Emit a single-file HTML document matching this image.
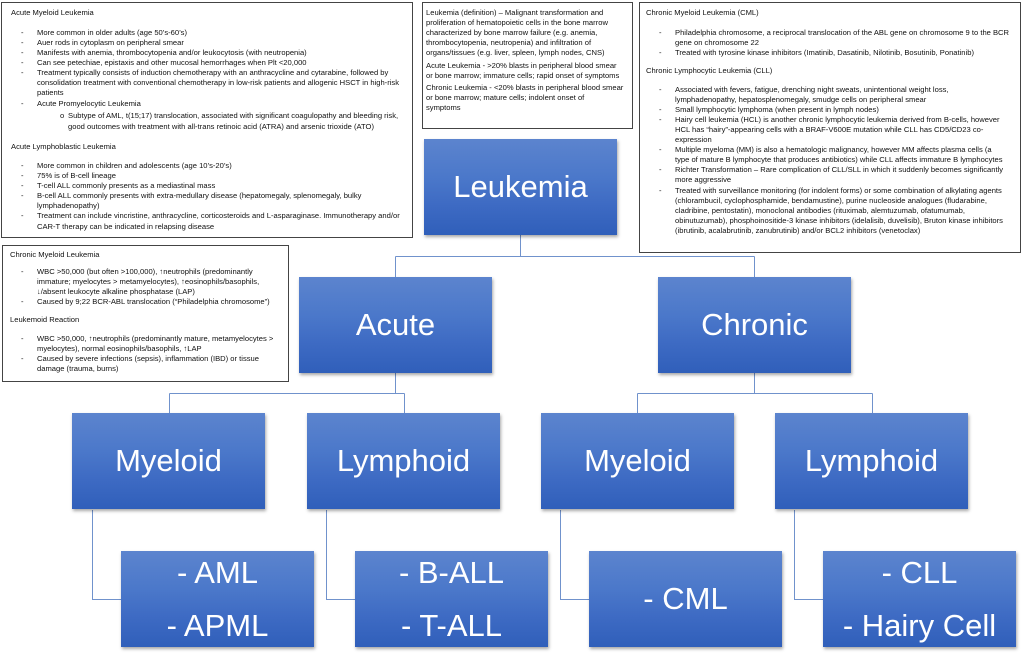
<!DOCTYPE html>
<html>
<head>
<meta charset="utf-8">
<style>
  html,body{margin:0;padding:0;background:#fff;}
  body{width:1024px;height:655px;position:relative;overflow:hidden;font-family:"Liberation Sans",Arial,"DejaVu Sans",sans-serif;}
  .box{position:absolute;border:1px solid #444;background:#fff;box-sizing:border-box;}
  .l{position:absolute;font-size:7.6px;line-height:10px;height:10px;white-space:nowrap;color:#111;}
  .node{position:absolute;width:193px;height:96px;background:linear-gradient(to bottom,#5c84ce 0%,#4b78ca 40%,#3d6ac3 70%,#305fba 100%);box-shadow:1px 2px 3px rgba(0,0,0,0.35);color:#fff;font-size:31px;text-align:center;}
  .node .t1{position:absolute;left:0;top:0;width:100%;line-height:96px;white-space:nowrap;}
  .node .t2{position:absolute;left:0;top:-5px;width:100%;line-height:53px;white-space:nowrap;}
  svg{position:absolute;left:0;top:0;}
</style>
</head>
<body>

<!-- connectors -->
<svg width="1024" height="655" viewBox="0 0 1024 655">
  <g stroke="#7092cc" stroke-width="1" fill="none" shape-rendering="crispEdges">
    <path d="M520.5 235 V256.5 M395.5 256.5 H754.5 M395.5 256.5 V277 M754.5 256.5 V277"/>
    <path d="M395.5 373 V393.5 M169.5 393.5 H404.5 M169.5 393.5 V413 M404.5 393.5 V413"/>
    <path d="M754.5 373 V393.5 M637.5 393.5 H872.5 M637.5 393.5 V413 M872.5 393.5 V413"/>
    <path d="M92.5 510 V599.5 H121"/>
    <path d="M326.5 510 V599.5 H355"/>
    <path d="M560.5 510 V599.5 H589"/>
    <path d="M794.5 510 V599.5 H823"/>
  </g>
</svg>

<!-- text boxes -->
<div class="box" style="left:1px;top:2px;width:412px;height:236px;"></div>
<div class="box" style="left:422px;top:2px;width:211px;height:127px;"></div>
<div class="box" style="left:639px;top:2px;width:382px;height:251px;"></div>
<div class="box" style="left:2px;top:245px;width:287px;height:137px;"></div>

<!-- top-left box text -->
<div class="l" style="left:11px;top:8px;">Acute Myeloid Leukemia</div>
<div class="l" style="left:21px;top:28px;">-</div><div class="l" style="left:37px;top:28px;">More common in older adults (age 50’s-60’s)</div>
<div class="l" style="left:21px;top:38px;">-</div><div class="l" style="left:37px;top:38px;">Auer rods in cytoplasm on peripheral smear</div>
<div class="l" style="left:21px;top:48px;">-</div><div class="l" style="left:37px;top:48px;">Manifests with anemia, thrombocytopenia and/or leukocytosis (with neutropenia)</div>
<div class="l" style="left:21px;top:58px;">-</div><div class="l" style="left:37px;top:58px;">Can see petechiae, epistaxis and other mucosal hemorrhages when Plt &lt;20,000</div>
<div class="l" style="left:21px;top:68px;">-</div><div class="l" style="left:37px;top:68px;">Treatment typically consists of induction chemotherapy with an anthracycline and cytarabine, followed by</div>
<div class="l" style="left:37px;top:78px;">consolidation treatment with conventional chemotherapy in low-risk patients and allogenic HSCT in high-risk</div>
<div class="l" style="left:37px;top:88px;">patients</div>
<div class="l" style="left:21px;top:99px;">-</div><div class="l" style="left:37px;top:99px;">Acute Promyelocytic Leukemia</div>
<div class="l" style="left:60px;top:111px;">o</div><div class="l" style="left:68px;top:111px;">Subtype of AML, t(15;17) translocation, associated with significant coagulopathy and bleeding risk,</div>
<div class="l" style="left:68px;top:122px;">good outcomes with treatment with all-trans retinoic acid (ATRA) and arsenic trioxide (ATO)</div>
<div class="l" style="left:11px;top:142px;">Acute Lymphoblastic Leukemia</div>
<div class="l" style="left:21px;top:161px;">-</div><div class="l" style="left:37px;top:161px;">More common in children and adolescents (age 10’s-20’s)</div>
<div class="l" style="left:21px;top:171px;">-</div><div class="l" style="left:37px;top:171px;">75% is of B-cell lineage</div>
<div class="l" style="left:21px;top:181px;">-</div><div class="l" style="left:37px;top:181px;">T-cell ALL commonly presents as a mediastinal mass</div>
<div class="l" style="left:21px;top:191px;">-</div><div class="l" style="left:37px;top:191px;">B-cell ALL commonly presents with extra-medullary disease (hepatomegaly, splenomegaly, bulky</div>
<div class="l" style="left:37px;top:201px;">lymphadenopathy)</div>
<div class="l" style="left:21px;top:211px;">-</div><div class="l" style="left:37px;top:211px;">Treatment can include vincristine, anthracycline, corticosteroids and L-asparaginase. Immunotherapy and/or</div>
<div class="l" style="left:37px;top:222px;">CAR-T therapy can be indicated in relapsing disease</div>

<!-- top-middle box text -->
<div class="l" style="left:426px;top:8px;">Leukemia (definition) – Malignant transformation and</div>
<div class="l" style="left:426px;top:18px;">proliferation of hematopoietic cells in the bone marrow</div>
<div class="l" style="left:426px;top:28px;">characterized by bone marrow failure (e.g. anemia,</div>
<div class="l" style="left:426px;top:38px;">thrombocytopenia, neutropenia) and infiltration of</div>
<div class="l" style="left:426px;top:48px;">organs/tissues (e.g. liver, spleen, lymph nodes, CNS)</div>
<div class="l" style="left:426px;top:61px;">Acute Leukemia - &gt;20% blasts in peripheral blood smear</div>
<div class="l" style="left:426px;top:71px;">or bone marrow; immature cells; rapid onset of symptoms</div>
<div class="l" style="left:426px;top:83px;">Chronic Leukemia - &lt;20% blasts in peripheral blood smear</div>
<div class="l" style="left:426px;top:93px;">or bone marrow; mature cells; indolent onset of</div>
<div class="l" style="left:426px;top:103px;">symptoms</div>

<!-- top-right box text -->
<div class="l" style="left:646px;top:8px;">Chronic Myeloid Leukemia (CML)</div>
<div class="l" style="left:659px;top:28px;">-</div><div class="l" style="left:675px;top:28px;">Philadelphia chromosome, a reciprocal translocation of the ABL gene on chromosome 9 to the BCR</div>
<div class="l" style="left:675px;top:38px;">gene on chromosome 22</div>
<div class="l" style="left:659px;top:48px;">-</div><div class="l" style="left:675px;top:48px;">Treated with tyrosine kinase inhibitors (Imatinib, Dasatinib, Nilotinib, Bosutinib, Ponatinib)</div>
<div class="l" style="left:646px;top:66px;">Chronic Lymphocytic Leukemia (CLL)</div>
<div class="l" style="left:659px;top:85px;">-</div><div class="l" style="left:675px;top:85px;">Associated with fevers, fatigue, drenching night sweats, unintentional weight loss,</div>
<div class="l" style="left:675px;top:95px;">lymphadenopathy, hepatosplenomegaly, smudge cells on peripheral smear</div>
<div class="l" style="left:659px;top:105px;">-</div><div class="l" style="left:675px;top:105px;">Small lymphocytic lymphoma (when present in lymph nodes)</div>
<div class="l" style="left:659px;top:115px;">-</div><div class="l" style="left:675px;top:115px;">Hairy cell leukemia (HCL) is another chronic lymphocytic leukemia derived from B-cells, however</div>
<div class="l" style="left:675px;top:125px;">HCL has “hairy”-appearing cells with a BRAF-V600E mutation while CLL has CD5/CD23 co-</div>
<div class="l" style="left:675px;top:135px;">expression</div>
<div class="l" style="left:659px;top:145px;">-</div><div class="l" style="left:675px;top:145px;">Multiple myeloma (MM) is also a hematologic malignancy, however MM affects plasma cells (a</div>
<div class="l" style="left:675px;top:155px;">type of mature B lymphocyte that produces antibiotics) while CLL affects immature B lymphocytes</div>
<div class="l" style="left:659px;top:165px;">-</div><div class="l" style="left:675px;top:165px;">Richter Transformation – Rare complication of CLL/SLL in which it suddenly becomes significantly</div>
<div class="l" style="left:675px;top:175px;">more aggressive</div>
<div class="l" style="left:659px;top:186px;">-</div><div class="l" style="left:675px;top:186px;">Treated with surveillance monitoring (for indolent forms) or some combination of alkylating agents</div>
<div class="l" style="left:675px;top:196px;">(chlorambucil, cyclophosphamide, bendamustine), purine nucleoside analogues (fludarabine,</div>
<div class="l" style="left:675px;top:206px;">cladribine, pentostatin), monoclonal antibodies (rituximab, alemtuzumab, ofatumumab,</div>
<div class="l" style="left:675px;top:216px;">obinutuzumab), phosphoinositide-3 kinase inhibitors (idelalisib, duvelisib), Bruton kinase inhibitors</div>
<div class="l" style="left:675px;top:226px;">(ibrutinib, acalabrutinib, zanubrutinib) and/or BCL2 inhibitors (venetoclax)</div>

<!-- left-middle box text -->
<div class="l" style="left:10px;top:250px;">Chronic Myeloid Leukemia</div>
<div class="l" style="left:21px;top:267px;">-</div><div class="l" style="left:37px;top:267px;">WBC &gt;50,000 (but often &gt;100,000), ↑neutrophils (predominantly</div>
<div class="l" style="left:37px;top:277px;">immature; myelocytes &gt; metamyelocytes), ↑eosinophils/basophils,</div>
<div class="l" style="left:37px;top:287px;">↓/absent leukocyte alkaline phosphatase (LAP)</div>
<div class="l" style="left:21px;top:297px;">-</div><div class="l" style="left:37px;top:297px;">Caused by 9;22 BCR-ABL translocation (“Philadelphia chromosome”)</div>
<div class="l" style="left:10px;top:315px;">Leukemoid Reaction</div>
<div class="l" style="left:21px;top:334px;">-</div><div class="l" style="left:37px;top:334px;">WBC &gt;50,000, ↑neutrophils (predominantly mature, metamyelocytes &gt;</div>
<div class="l" style="left:37px;top:344px;">myelocytes), normal eosinophils/basophils, ↑LAP</div>
<div class="l" style="left:21px;top:354px;">-</div><div class="l" style="left:37px;top:354px;">Caused by severe infections (sepsis), inflammation (IBD) or tissue</div>
<div class="l" style="left:37px;top:364px;">damage (trauma, burns)</div>

<!-- nodes -->
<div class="node" style="left:424px;top:139px;"><div class="t1">Leukemia</div></div>
<div class="node" style="left:299px;top:277px;"><div class="t1">Acute</div></div>
<div class="node" style="left:658px;top:277px;"><div class="t1">Chronic</div></div>

<div class="node" style="left:72px;top:413px;"><div class="t1">Myeloid</div></div>
<div class="node" style="left:307px;top:413px;"><div class="t1">Lymphoid</div></div>
<div class="node" style="left:541px;top:413px;"><div class="t1">Myeloid</div></div>
<div class="node" style="left:775px;top:413px;"><div class="t1">Lymphoid</div></div>

<div class="node" style="left:121px;top:551px;"><div class="t2">- AML<br>- APML</div></div>
<div class="node" style="left:355px;top:551px;"><div class="t2">- B-ALL<br>- T-ALL</div></div>
<div class="node" style="left:589px;top:551px;"><div class="t1">- CML</div></div>
<div class="node" style="left:823px;top:551px;"><div class="t2">- CLL<br>- Hairy Cell</div></div>

</body>
</html>
